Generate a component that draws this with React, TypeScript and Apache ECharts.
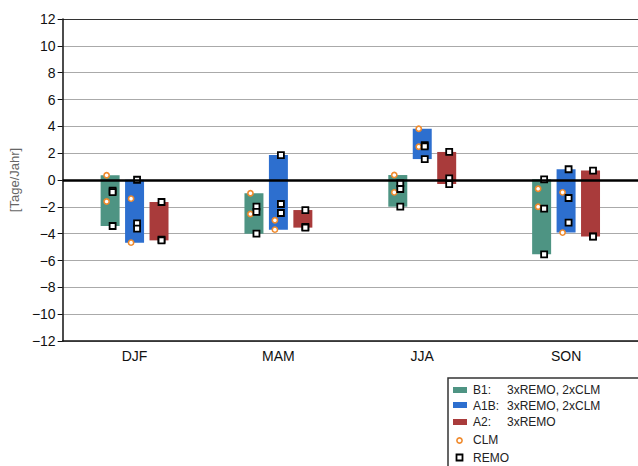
import React, { useEffect, useRef } from "react";
import * as echarts from "echarts";

const seasons = ["DJF", "MAM", "JJA", "SON"];
const scenarios = ["B1", "A1B", "A2"];
const scenarioColors = ["#4e9483", "#2d6fcf", "#a93b3b"];

// CLM values per season: [B1 values, A1B values, A2 values]
const clmDJF = [[0.35, -1.6], [-1.39, -4.67], []];
const clmMAM = [[-0.99, -2.53], [-3.0, -3.7], []];
const clmJJA = [[0.37, -0.92], [3.82, 2.48], []];
const clmSON = [[-0.65, -1.99], [-0.92, -3.92], []];

// REMO values per season
const remoDJF = [[-0.8, -0.9, -3.43], [0.02, -3.23, -3.63], [-1.64, -4.45, -4.5]];
const remoMAM = [[-1.99, -2.38, -4.0], [1.86, -1.79, -2.46], [-2.24, -3.5, -3.55]];
const remoJJA = [[-0.25, -0.67, -1.99], [2.6, 2.5, 1.56], [2.09, 0.12, -0.3]];
const remoSON = [[0.05, -2.14, -5.54], [0.8, -1.34, -3.18], [0.7, -4.2, -4.22]];

const yTicks = [-12, -10, -8, -6, -4, -2, 0, 2, 4, 6, 8, 10, 12];

const clmAll = [clmDJF, clmMAM, clmJJA, clmSON];
const remoAll = [remoDJF, remoMAM, remoJJA, remoSON];

export default function App() {
  const ref = useRef<HTMLDivElement>(null);
  useEffect(() => {
    if (!ref.current) return;
    const chart = echarts.init(ref.current, null, { renderer: "svg" });

    const barData: any[] = [];
    const clmData: any[] = [];
    const remoData: any[] = [];
    seasons.forEach((_, i) => {
      scenarios.forEach((_, j) => {
        const vals = [...clmAll[i][j], ...remoAll[i][j]];
        barData.push([i, Math.min(...vals), Math.max(...vals), j]);
        clmAll[i][j].forEach((v) => clmData.push([i, v, j]));
        remoAll[i][j].forEach((v) => remoData.push([i, v, j]));
      });
    });

    const centerX = (api: any, cat: number, scen: number) => {
      const bw = api.size([1, 0])[0];
      return api.coord([cat, 0])[0] + (scen - 1) * bw * 0.17;
    };

    const font = "'Liberation Sans', Arial, sans-serif";
    const gridColors = yTicks.map((t) => (t === 12 ? "#333" : "#aaa"));

    const option: any = {
      animation: false,
      grid: { left: 61, top: 19, right: 0, bottom: 125 },
      xAxis: {
        type: "category",
        data: seasons,
        axisLine: { onZero: false, lineStyle: { color: "#111", width: 1.5 } },
        axisTick: { alignWithLabel: true, length: 4, lineStyle: { color: "#111" } },
        axisLabel: { fontSize: 14, color: "#111", fontFamily: font, margin: 8 },
        splitLine: { show: false },
      },
      yAxis: {
        type: "value",
        min: -12,
        max: 12,
        interval: 2,
        name: "[Tage/Jahr]",
        nameLocation: "middle",
        nameRotate: 90,
        nameGap: 39,
        nameTextStyle: { fontSize: 13, color: "#666", fontFamily: font },
        axisLine: { show: true, lineStyle: { color: "#111", width: 1.5 } },
        axisTick: { show: true, length: 5, lineStyle: { color: "#111" } },
        axisLabel: {
          fontSize: 14,
          color: "#111",
          fontFamily: font,
          margin: 7,
          formatter: (v: number) => (v < 0 ? "\u2212" + Math.abs(v) : String(v)),
        },
        splitLine: { show: true, lineStyle: { color: gridColors, width: 1 } },
      },
      series: [
        {
          type: "custom",
          name: "bars",
          data: barData,
          encode: { x: 0, y: [1, 2] },
          renderItem: (params: any, api: any) => {
            const cat = api.value(0);
            const lo = api.value(1);
            const hi = api.value(2);
            const scen = api.value(3);
            const bw = api.size([1, 0])[0];
            const w = bw * 0.132;
            const cx = centerX(api, cat, scen);
            const yTop = api.coord([cat, hi])[1];
            const yBot = api.coord([cat, lo])[1];
            return {
              type: "rect",
              shape: { x: cx - w / 2, y: yTop, width: w, height: yBot - yTop },
              style: { fill: scenarioColors[scen] },
            };
          },
          markLine: {
            silent: true,
            symbol: "none",
            label: { show: false },
            lineStyle: { color: "#000", width: 2.5, type: "solid" },
            data: [{ yAxis: 0 }],
          },
          z: 2,
        },
        {
          type: "custom",
          name: "CLM",
          data: clmData,
          encode: { x: 0, y: 1 },
          renderItem: (params: any, api: any) => {
            const cat = api.value(0);
            const v = api.value(1);
            const scen = api.value(2);
            const cx = centerX(api, cat, scen) - 3.5;
            const cy = api.coord([cat, v])[1];
            return {
              type: "circle",
              shape: { cx, cy, r: 2.6 },
              style: { fill: "#fff", stroke: "#f08a2c", lineWidth: 1.6 },
            };
          },
          z: 3,
        },
        {
          type: "custom",
          name: "REMO",
          data: remoData,
          encode: { x: 0, y: 1 },
          renderItem: (params: any, api: any) => {
            const cat = api.value(0);
            const v = api.value(1);
            const scen = api.value(2);
            const cx = centerX(api, cat, scen) + 2.5;
            const cy = api.coord([cat, v])[1];
            return {
              type: "rect",
              shape: { x: cx - 3, y: cy - 3, width: 6, height: 6 },
              style: { fill: "#fff", stroke: "#000", lineWidth: 1.8 },
            };
          },
          z: 4,
        },
      ],
      graphic: [
        {
          type: "rect",
          shape: { x: 448, y: 378, width: 200, height: 100 },
          style: { fill: "#fff", stroke: "#333", lineWidth: 1.5 },
          z: 10,
        },
        { type: "rect", shape: { x: 453, y: 387, width: 14, height: 6 }, style: { fill: scenarioColors[0] }, z: 11 },
        { type: "rect", shape: { x: 453, y: 402, width: 14, height: 6 }, style: { fill: scenarioColors[1] }, z: 11 },
        { type: "rect", shape: { x: 453, y: 419, width: 14, height: 6 }, style: { fill: scenarioColors[2] }, z: 11 },
        { type: "circle", shape: { cx: 459.5, cy: 440.5, r: 2.6 }, style: { fill: "#fff", stroke: "#f08a2c", lineWidth: 1.6 }, z: 11 },
        { type: "rect", shape: { x: 456.5, y: 454.5, width: 6, height: 6 }, style: { fill: "#fff", stroke: "#000", lineWidth: 1.8 }, z: 11 },
        ...[
          ["B1:", "3xREMO, 2xCLM", 390],
          ["A1B:", "3xREMO, 2xCLM", 405.5],
          ["A2:", "3xREMO", 422],
          ["CLM", "", 440],
          ["REMO", "", 457.5],
        ].flatMap(([a, b, y]) => [
          {
            type: "text",
            x: 473,
            y: y as number,
            style: { text: a as string, fontSize: 12, fill: "#222", fontFamily: font, verticalAlign: "middle" },
            z: 11,
          },
          {
            type: "text",
            x: 507,
            y: y as number,
            style: { text: b as string, fontSize: 12, fill: "#222", fontFamily: font, verticalAlign: "middle" },
            z: 11,
          },
        ]),
      ],
    };
    chart.setOption(option);
    return () => chart.dispose();
  }, []);
  return (
    <div
      ref={ref}
      style={{ position: "absolute", left: 0, top: 0, width: 638, height: 466, background: "#fff" }}
    />
  );
}
